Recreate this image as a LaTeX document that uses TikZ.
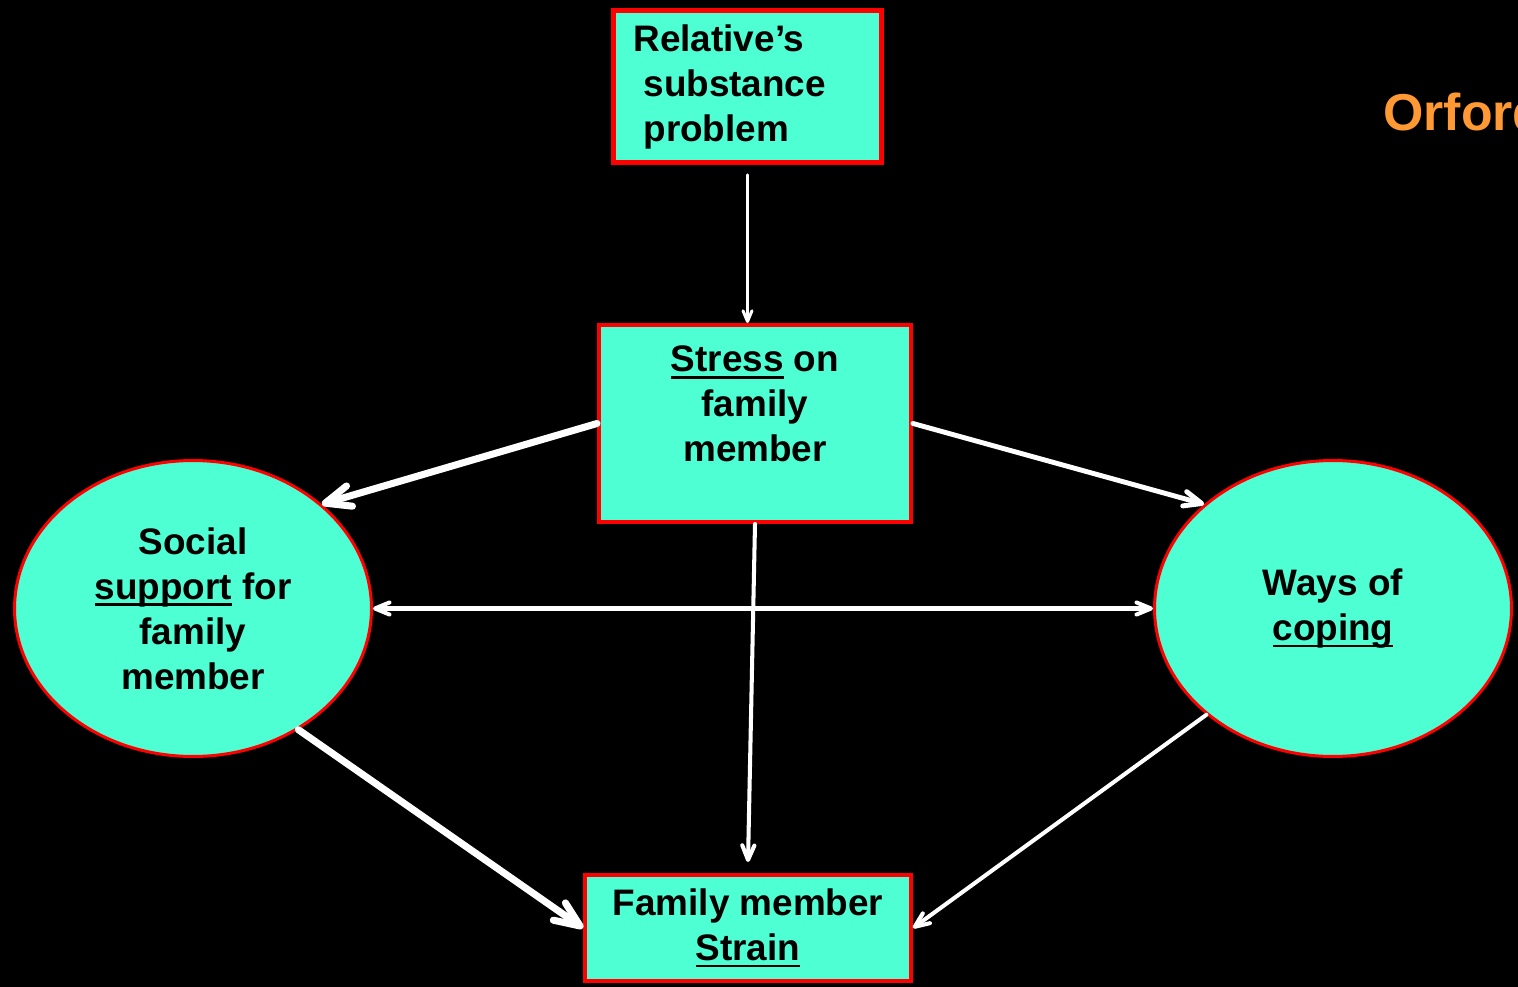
\documentclass[tikz,border=0pt]{standalone}
\usepackage{fontspec}
\setmainfont{Liberation Sans}
\usetikzlibrary{arrows.meta,shapes.geometric}
\definecolor{boxgreen}{HTML}{4DFFD2}
\definecolor{titleorange}{HTML}{FF9933}
\newcommand{\ulword}[1]{{\setbox0=\hbox{#1}\rlap{\rule[-4pt]{\wd0}{1.6pt}}\box0}}
\begin{document}
\begin{tikzpicture}[x=0.02cm, y=-0.02cm,
	every node/.style={font=\bfseries\fontsize{21}{25.6}\selectfont, text=black},
	greenbox/.style={draw=red, fill=boxgreen, line width=2.3pt},
	greenoval/.style={ellipse, draw=red, fill=boxgreen, line width=1.7pt, inner sep=0pt, minimum width=7.14cm, minimum height=5.92cm, align=center},
	link/.style={draw=white, line cap=round, -{Straight Barb[length=0pt 3.6, width=0pt 3, round]}},
	bothlink/.style={draw=white, line cap=round, {Straight Barb[length=0pt 3.6, width=0pt 3, round]}-{Straight Barb[length=0pt 3.6, width=0pt 3, round]}}]
	\useasboundingbox (0,0) rectangle (1518,987);
	\clip (0,0) rectangle (1518,987);
	\fill[black] (0,0) rectangle (1518,987);
	\node[greenbox, line width=2.8pt, inner xsep=0.4cm, text width=4.56cm, minimum height=3.04cm, align=left] (problem) at (747.5,86.5) {Relative’s\\\hspace*{0.2cm}substance\\\hspace*{0.2cm}problem};
	\node[greenbox, minimum width=6.24cm, minimum height=3.94cm] (stress) at (755,423.5) {};
	\node[align=center] (stresstext) at (755,404) {\ulword{Stress} on\\family\\member};
	\node[greenoval] (social) at (193,608.5) {Social\\\ulword{support} for\\family\\member};
	\node[greenoval] (ways) at (1333,608.5) {Ways of\\\ulword{coping}};
	\node[greenbox, minimum width=6.52cm, minimum height=2.12cm, align=center] (strain) at (748,928) {Family member\\\ulword{Strain}};
	\node[anchor=west, inner sep=0pt, text=titleorange, font=\bfseries\fontsize{29.5}{34}\selectfont] (orford) at (1383,112) {Orford};
	\draw[link, line width=1.7pt, shorten <=0.2cm] (problem.south) -- (problem.south |- stress.north);
	\draw[link, line width=4pt] (stress.west) -- (social.39);
	\draw[link, line width=2.8pt] (stress.east) -- (ways.141);
	\draw[link, line width=2.3pt] (stress.south) -- ([yshift=0.22cm]strain.north);
	\draw[bothlink, line width=2.3pt] (social.east) -- (ways.west);
	\draw[link, line width=4pt] (social.-49) -- (strain.west);
	\draw[link, line width=2.3pt] (ways.220) -- (strain.east);
\end{tikzpicture}
\end{document}
